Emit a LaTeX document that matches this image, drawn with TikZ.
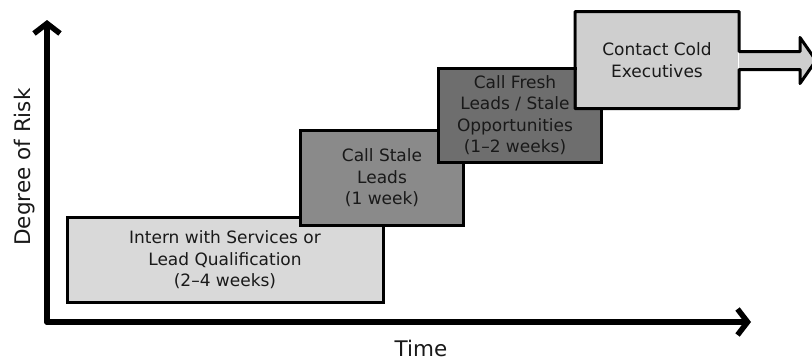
\documentclass[tikz,border=0pt]{standalone}
\usepackage{fontspec}
\setmainfont{DejaVu Sans}
\usetikzlibrary{arrows.meta,calc}
\begin{document}
\begin{tikzpicture}[x=1pt,y=-1pt,
  axis/.style={line width=5.5pt,line cap=round,line join=round,
    -{Straight Barb[length=10pt,width=26pt,line width=5.5pt]}},
  stage/.style={draw=black,line width=3pt,rectangle,inner sep=0pt,
    align=center,font=\fontsize{17}{21.5}\selectfont,text=black!90},
  caption/.style={inner sep=0pt,align=center,font=\fontsize{17}{21.5}\selectfont,text=black!90},
  lbl/.style={font=\fontsize{21.5}{24}\selectfont,text=black!90}]
\useasboundingbox (0,0) rectangle (812,360);

% axes
\coordinate (origin) at (47,322);
\coordinate (ytip) at (47,20);
\coordinate (xtip) at (751,322);
\draw[axis] (origin) -- (ytip);
\draw[axis] (origin) -- (xtip);
\node[lbl,rotate=90] (ylab) at (25,167) {Degree of Risk};
\node[lbl] (xlab) at (421,348) {Time};

% stages
\node[stage,fill=black!15,minimum width=316pt,minimum height=85pt] (s1) at (225,260)
  {Intern with Services or\\Lead Qualification\\(2--4 weeks)};
\node[stage,fill=black!46,minimum width=163pt,minimum height=95pt] (s2) at (382,178)
  {Call Stale\\Leads\\(1 week)};
\node[stage,fill=black!57,minimum width=163pt,minimum height=94pt] (s3) at (520,115) {};
\node[caption] (s3text) at ($(s3.center)+(-5,0)$)
  {Call Fresh\\Leads / Stale\\Opportunities\\(1--2 weeks)};
% last stage with its outgoing arrow
\node[stage,draw=none,fill=black!19,minimum width=161pt,minimum height=94pt] (s4) at (657,60)
  {Contact Cold\\Executives};
\coordinate (a1) at ($(s4.north east)+(0,40)$);
\coordinate (a2) at ($(s4.north east)+(0,58)$);
\fill[black!19] (a1) -- ++(61,0) -- ++(0,-14) -- ++(16,23) -- ++(-16,23) -- ++(0,-14) -- (a2) -- cycle;
\draw[line width=3pt,line join=round]
  (s4.north west) -- (s4.north east) -- (a1) -- ++(61,0) -- ++(0,-14) -- ++(16,23)
  -- ++(-16,23) -- ++(0,-14) -- (a2) -- (s4.south east) -- (s4.south west) -- cycle;
\end{tikzpicture}
\end{document}
